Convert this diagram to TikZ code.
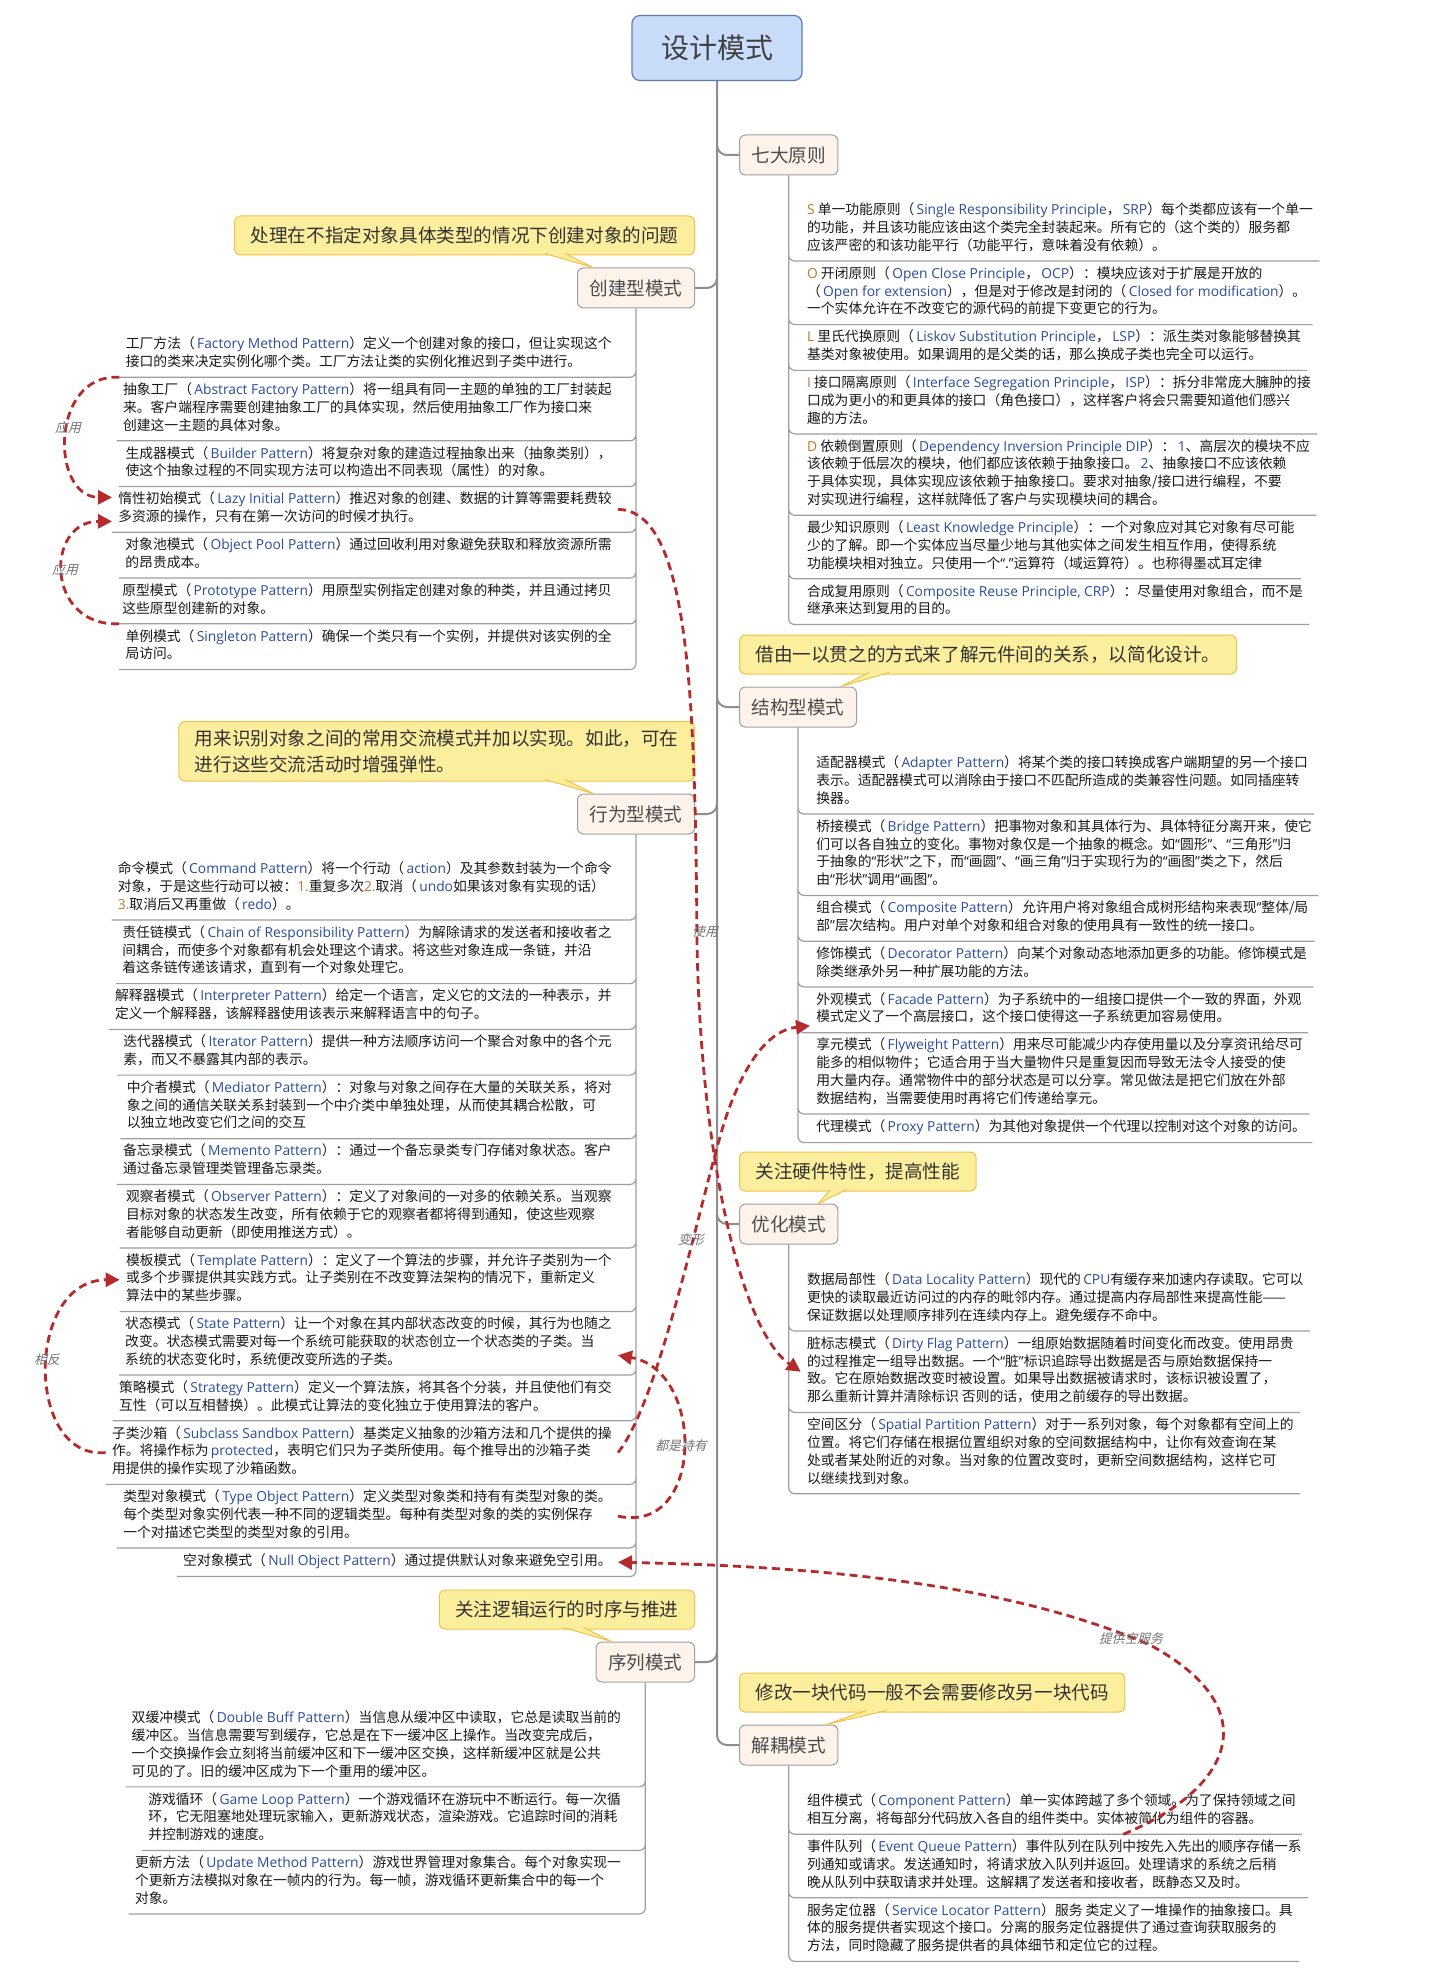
\documentclass[tikz,border=0pt]{standalone}
\usepackage{fontspec}
\setmainfont{Noto Sans CJK SC}
\newfontfamily\enfont{Open Sans}
\newfontfamily\lblfont[FakeSlant=0.25]{Noto Sans CJK SC}
\usetikzlibrary{positioning,arrows.meta,calc}
\definecolor{rootfill}{HTML}{C9DCFA}
\definecolor{rootline}{HTML}{5B7DB8}
\definecolor{branchfill}{HTML}{FDF3EB}
\definecolor{branchline}{HTML}{A0A0A0}
\definecolor{notefill}{HTML}{FBEE9D}
\definecolor{noteline}{HTML}{F0C24A}
\definecolor{treeline}{HTML}{8E8E8E}
\definecolor{enblue}{HTML}{2B4C9C}
\definecolor{enorange}{HTML}{C0762B}
\definecolor{relred}{HTML}{B52A2A}
\newcommand\en[1]{{\enfont\color{enblue}\,#1}}
\newcommand\hl[1]{{\enfont\color{enorange}#1}}
\newcommand\qt[1]{{\enfont “}#1{\enfont ”}}

\begin{document}
\begin{tikzpicture}[x=0.5pt,y=-0.5pt,
  root/.style={draw=rootline,fill=rootfill,rounded corners=4pt,line width=0.6pt,
    minimum width=85pt,minimum height=32.5pt,font=\fontsize{14}{16}\selectfont,text=black!75},
  branch/.style={draw=branchline,fill=branchfill,rounded corners=3pt,line width=0.5pt,
    minimum height=20pt,inner xsep=6pt,font=\fontsize{9.3}{11}\selectfont,text=black!70},
  note/.style={draw=noteline,fill=notefill,rounded corners=3pt,line width=0.5pt,
    inner xsep=8pt,inner ysep=4pt,minimum height=19.5pt,align=left,
    font=\fontsize{9.3}{13}\selectfont,text=black!80},
  notetip/.style={fill=notefill,draw=noteline,line width=0.5pt},
  itemL/.style={anchor=north east,align=left,inner xsep=3pt,inner ysep=2.5pt,
    font=\fontsize{6.9}{8.9}\selectfont,text=black!90,
    execute at begin node=\strut,execute at end node=\strut},
  itemR/.style={itemL,anchor=north west},
  trunk/.style={draw=treeline,line width=1pt,rounded corners=5pt},
  tree/.style={draw=treeline!85,line width=0.6pt,rounded corners=3pt},
  rel/.style={draw=relred,line width=1.4pt,dash pattern=on 4pt off 2.5pt,
    -{Triangle[length=7pt,width=7pt]}},
  rellabel/.style={font=\lblfont\fontsize{6.4}{7}\selectfont,text=black!55}
]
    \path[use as bounding box,fill=white] (0,0) rectangle (1434,1974);

    % Root
    \node[root] (root) at (717,48) {设计模式};

    % Branches
    \node[branch,anchor=west] (pri) at (739,155) {七大原则};
    \node[branch,anchor=east] (cre) at (695,288) {创建型模式};
    \node[branch,anchor=west] (str) at (739,707) {结构型模式};
    \node[branch,anchor=east] (beh) at (695,814) {行为型模式};
    \node[branch,anchor=west] (opt) at (739,1224) {优化模式};
    \node[branch,anchor=east] (seq) at (695,1662) {序列模式};
    \node[branch,anchor=west] (dec) at (739,1745) {解耦模式};

    \draw[trunk] (root.south) |- (pri.west) (root.south) |- (cre.east)
                 (root.south) |- (str.west) (root.south) |- (beh.east)
                 (root.south) |- (opt.west) (root.south) |- (seq.east)
                 (root.south) |- (dec.west);

    % Notes
    \node[note,above left=6pt and 0pt of cre.north east] (ncre)
        {处理在不指定对象具体类型的情况下创建对象的问题};
    \node[note,above left=6pt and 0pt of beh.north east] (nbeh)
        {用来识别对象之间的常用交流模式并加以实现。如此，可在\\进行这些交流活动时增强弹性。};
    \node[note,above right=6pt and 0pt of str.north west] (nstr)
        {借由一以贯之的方式来了解元件间的关系，以简化设计。};
    \node[note,above right=6pt and 0pt of opt.north west] (nopt)
        {关注硬件特性，提高性能};
    \node[note,above left=6pt and 0pt of seq.north east] (nseq)
        {关注逻辑运行的时序与推进};
    \node[note,above right=6pt and 0pt of dec.north west] (ndec)
        {修改一块代码一般不会需要修改另一块代码};

    \filldraw[notetip] ($(cre.north west|-ncre.south)+(-16pt,1pt)$) -- ([xshift=8pt]cre.north west)
        -- ($(cre.north west|-ncre.south)+(-6pt,1pt)$);
    \filldraw[notetip] ($(beh.north west|-nbeh.south)+(-16pt,1pt)$) -- ([xshift=8pt]beh.north west)
        -- ($(beh.north west|-nbeh.south)+(-6pt,1pt)$);
    \filldraw[notetip] ($(seq.north west|-nseq.south)+(-16pt,1pt)$) -- ([xshift=8pt]seq.north west)
        -- ($(seq.north west|-nseq.south)+(-6pt,1pt)$);
    \filldraw[notetip] ($(str.north east|-nstr.south)+(16pt,1pt)$) -- ([xshift=-8pt]str.north east)
        -- ($(str.north east|-nstr.south)+(6pt,1pt)$);
    \filldraw[notetip] ($(opt.north east|-nopt.south)+(4pt,1pt)$) -- ([xshift=-10pt]opt.north east)
        -- ($(opt.north east|-nopt.south)+(-4pt,1pt)$);
    \filldraw[notetip] ($(dec.north east|-ndec.south)+(24pt,1pt)$) -- ([xshift=-6pt]dec.north east)
        -- ($(dec.north east|-ndec.south)+(14pt,1pt)$);

    % Seven principles
    \node[itemR] (srp) at ([xshift=6pt,yshift=-11pt]pri.south)
        {\hl{S} 单一功能原则（\en{Single Responsibility Principle}，\en{SRP}）每个类都应该有一个单一\\的功能，并且该功能应该由这个类完全封装起来。所有它的（这个类的）服务都\\应该严密的和该功能平行（功能平行，意味着没有依赖）。};
    \node[itemR] (ocp) at (srp.south west)
        {\hl{O} 开闭原则（\en{Open Close Principle}，\en{OCP}）：模块应该对于扩展是开放的\\（\en{Open for extension}），但是对于修改是封闭的（\en{Closed for modification}）。\\一个实体允许在不改变它的源代码的前提下变更它的行为。};
    \node[itemR] (lsp) at (ocp.south west)
        {\hl{L} 里氏代换原则（\en{Liskov Substitution Principle}，\en{LSP}）：派生类对象能够替换其\\基类对象被使用。如果调用的是父类的话，那么换成子类也完全可以运行。};
    \node[itemR] (isp) at (lsp.south west)
        {\hl{I} 接口隔离原则（\en{Interface Segregation Principle}，\en{ISP}）：拆分非常庞大臃肿的接\\口成为更小的和更具体的接口（角色接口），这样客户将会只需要知道他们感兴\\趣的方法。};
    \node[itemR] (dip) at (isp.south west)
        {\hl{D} 依赖倒置原则（\en{Dependency Inversion Principle DIP}）：\en{1}、高层次的模块不应\\该依赖于低层次的模块，他们都应该依赖于抽象接口。\en{2}、抽象接口不应该依赖\\于具体实现，具体实现应该依赖于抽象接口。要求对抽象/接口进行编程，不要\\对实现进行编程，这样就降低了客户与实现模块间的耦合。};
    \node[itemR] (lkp) at (dip.south west)
        {最少知识原则（\en{Least Knowledge Principle}）：一个对象应对其它对象有尽可能\\少的了解。即一个实体应当尽量少地与其他实体之间发生相互作用，使得系统\\功能模块相对独立。只使用一个\qt{.}运算符（域运算符）。也称得墨忒耳定律};
    \node[itemR] (crp) at (lkp.south west)
        {合成复用原则（\en{Composite Reuse Principle, CRP}）：尽量使用对象组合，而不是\\继承来达到复用的目的。};
    \draw[tree] (pri.south) |- (srp.south east) (pri.south) |- (ocp.south east)
                (pri.south) |- (lsp.south east) (pri.south) |- (isp.south east)
                (pri.south) |- (dip.south east) (pri.south) |- (lkp.south east)
                (pri.south) |- (crp.south east);

    % Creational
    \node[itemL] (fac) at ([xshift=-9pt,yshift=-11.5pt]cre.south)
        {工厂方法（\en{Factory Method Pattern}）定义一个创建对象的接口，但让实现这个\\接口的类来决定实例化哪个类。工厂方法让类的实例化推迟到子类中进行。};
    \node[itemL] (abf) at (fac.south east)
        {抽象工厂（\en{Abstract Factory Pattern}）将一组具有同一主题的单独的工厂封装起\\来。客户端程序需要创建抽象工厂的具体实现，然后使用抽象工厂作为接口来\\创建这一主题的具体对象。};
    \node[itemL] (bld) at (abf.south east)
        {生成器模式（\en{Builder Pattern}）将复杂对象的建造过程抽象出来（抽象类别），\\使这个抽象过程的不同实现方法可以构造出不同表现（属性）的对象。};
    \node[itemL] (lazy) at (bld.south east)
        {惰性初始模式（\en{Lazy Initial Pattern}）推迟对象的创建、数据的计算等需要耗费较\\多资源的操作，只有在第一次访问的时候才执行。};
    \node[itemL] (pool) at (lazy.south east)
        {对象池模式（\en{Object Pool Pattern}）通过回收利用对象避免获取和释放资源所需\\的昂贵成本。};
    \node[itemL] (proto) at (pool.south east)
        {原型模式（\en{Prototype Pattern}）用原型实例指定创建对象的种类，并且通过拷贝\\这些原型创建新的对象。};
    \node[itemL] (sgl) at (proto.south east)
        {单例模式（\en{Singleton Pattern}）确保一个类只有一个实例，并提供对该实例的全\\局访问。};
    \draw[tree] (cre.south) |- (fac.south west) (cre.south) |- (abf.south west)
                (cre.south) |- (bld.south west) (cre.south) |- (lazy.south west)
                (cre.south) |- (pool.south west) (cre.south) |- (proto.south west)
                (cre.south) |- (sgl.south west);

    % Structural
    \node[itemR] (adp) at ([xshift=6pt,yshift=-11.5pt]str.south)
        {适配器模式（\en{Adapter Pattern}）将某个类的接口转换成客户端期望的另一个接口\\表示。适配器模式可以消除由于接口不匹配所造成的类兼容性问题。如同插座转\\换器。};
    \node[itemR] (brg) at (adp.south west)
        {桥接模式（\en{Bridge Pattern}）把事物对象和其具体行为、具体特征分离开来，使它\\们可以各自独立的变化。事物对象仅是一个抽象的概念。如\qt{圆形}、\qt{三角形}归\\于抽象的\qt{形状}之下，而\qt{画圆}、\qt{画三角}归于实现行为的\qt{画图}类之下，然后\\由\qt{形状}调用\qt{画图}。};
    \node[itemR] (cmp) at (brg.south west)
        {组合模式（\en{Composite Pattern}）允许用户将对象组合成树形结构来表现{\enfont “}整体/局\\部{\enfont ”}层次结构。用户对单个对象和组合对象的使用具有一致性的统一接口。};
    \node[itemR] (dco) at (cmp.south west)
        {修饰模式（\en{Decorator Pattern}）向某个对象动态地添加更多的功能。修饰模式是\\除类继承外另一种扩展功能的方法。};
    \node[itemR] (fcd) at (dco.south west)
        {外观模式（\en{Facade Pattern}）为子系统中的一组接口提供一个一致的界面，外观\\模式定义了一个高层接口，这个接口使得这一子系统更加容易使用。};
    \node[itemR] (fly) at (fcd.south west)
        {享元模式（\en{Flyweight Pattern}）用来尽可能减少内存使用量以及分享资讯给尽可\\能多的相似物件；它适合用于当大量物件只是重复因而导致无法令人接受的使\\用大量内存。通常物件中的部分状态是可以分享。常见做法是把它们放在外部\\数据结构，当需要使用时再将它们传递给享元。};
    \node[itemR] (prx) at (fly.south west)
        {代理模式（\en{Proxy Pattern}）为其他对象提供一个代理以控制对这个对象的访问。};
    \draw[tree] (str.south) |- (adp.south east) (str.south) |- (brg.south east)
                (str.south) |- (cmp.south east) (str.south) |- (dco.south east)
                (str.south) |- (fcd.south east) (str.south) |- (fly.south east)
                (str.south) |- (prx.south east);

    % Behavioral
    \node[itemL] (cmd) at ([xshift=-9pt,yshift=-11pt]beh.south)
        {命令模式（\en{Command Pattern}）将一个行动（\en{action}）及其参数封装为一个命令\\对象，于是这些行动可以被：\hl{1.}重复多次\hl{2.}取消（\en{undo}如果该对象有实现的话）\\\hl{3.}取消后又再重做（\en{redo}）。};
    \node[itemL] (chn) at (cmd.south east)
        {责任链模式（\en{Chain of Responsibility Pattern}）为解除请求的发送者和接收者之\\间耦合，而使多个对象都有机会处理这个请求。将这些对象连成一条链，并沿\\着这条链传递该请求，直到有一个对象处理它。};
    \node[itemL] (itp) at (chn.south east)
        {解释器模式（\en{Interpreter Pattern}）给定一个语言，定义它的文法的一种表示，并\\定义一个解释器，该解释器使用该表示来解释语言中的句子。};
    \node[itemL] (itr) at (itp.south east)
        {迭代器模式（\en{Iterator Pattern}）提供一种方法顺序访问一个聚合对象中的各个元\\素，而又不暴露其内部的表示。};
    \node[itemL] (med) at (itr.south east)
        {中介者模式（\en{Mediator Pattern}）：对象与对象之间存在大量的关联关系，将对\\象之间的通信关联关系封装到一个中介类中单独处理，从而使其耦合松散，可\\以独立地改变它们之间的交互};
    \node[itemL] (mem) at (med.south east)
        {备忘录模式（\en{Memento Pattern}）：通过一个备忘录类专门存储对象状态。客户\\通过备忘录管理类管理备忘录类。};
    \node[itemL] (obs) at (mem.south east)
        {观察者模式（\en{Observer Pattern}）：定义了对象间的一对多的依赖关系。当观察\\目标对象的状态发生改变，所有依赖于它的观察者都将得到通知，使这些观察\\者能够自动更新（即使用推送方式）。};
    \node[itemL] (tpl) at (obs.south east)
        {模板模式（\en{Template Pattern}）：定义了一个算法的步骤，并允许子类别为一个\\或多个步骤提供其实践方式。让子类别在不改变算法架构的情况下，重新定义\\算法中的某些步骤。};
    \node[itemL] (stt) at (tpl.south east)
        {状态模式（\en{State Pattern}）让一个对象在其内部状态改变的时候，其行为也随之\\改变。状态模式需要对每一个系统可能获取的状态创立一个状态类的子类。当\\系统的状态变化时，系统便改变所选的子类。};
    \node[itemL] (stg) at (stt.south east)
        {策略模式（\en{Strategy Pattern}）定义一个算法族，将其各个分装，并且使他们有交\\互性（可以互相替换）。此模式让算法的变化独立于使用算法的客户。};
    \node[itemL] (sbx) at (stg.south east)
        {子类沙箱（\en{Subclass Sandbox Pattern}）基类定义抽象的沙箱方法和几个提供的操\\作。将操作标为\en{protected}，表明它们只为子类所使用。每个推导出的沙箱子类\\用提供的操作实现了沙箱函数。};
    \node[itemL] (typ) at (sbx.south east)
        {类型对象模式（\en{Type Object Pattern}）定义类型对象类和持有有类型对象的类。\\每个类型对象实例代表一种不同的逻辑类型。每种有类型对象的类的实例保存\\一个对描述它类型的类型对象的引用。};
    \node[itemL] (nul) at (typ.south east)
        {空对象模式（\en{Null Object Pattern}）通过提供默认对象来避免空引用。};
    \draw[tree] (beh.south) |- (cmd.south west) (beh.south) |- (chn.south west)
                (beh.south) |- (itp.south west) (beh.south) |- (itr.south west)
                (beh.south) |- (med.south west) (beh.south) |- (mem.south west)
                (beh.south) |- (obs.south west) (beh.south) |- (tpl.south west)
                (beh.south) |- (stt.south west) (beh.south) |- (stg.south west)
                (beh.south) |- (sbx.south west) (beh.south) |- (typ.south west)
                (beh.south) |- (nul.south west);

    % Optimization
    \node[itemR] (dloc) at ([xshift=6pt,yshift=-11.5pt]opt.south)
        {数据局部性（\en{Data Locality Pattern}）现代的\en{CPU}有缓存来加速内存读取。它可以\\更快的读取最近访问过的内存的毗邻内存。通过提高内存局部性来提高性能——\\保证数据以处理顺序排列在连续内存上。避免缓存不命中。};
    \node[itemR] (dirty) at (dloc.south west)
        {脏标志模式（\en{Dirty Flag Pattern}）一组原始数据随着时间变化而改变。使用昂贵\\的过程推定一组导出数据。一个\qt{脏}标识追踪导出数据是否与原始数据保持一\\致。它在原始数据改变时被设置。如果导出数据被请求时，该标识被设置了，\\那么重新计算并清除标识 否则的话，使用之前缓存的导出数据。};
    \node[itemR] (spat) at (dirty.south west)
        {空间区分（\en{Spatial Partition Pattern}）对于一系列对象，每个对象都有空间上的\\位置。将它们存储在根据位置组织对象的空间数据结构中，让你有效查询在某\\处或者某处附近的对象。当对象的位置改变时，更新空间数据结构，这样它可\\以继续找到对象。};
    \draw[tree] (opt.south) |- (dloc.south east) (opt.south) |- (dirty.south east)
                (opt.south) |- (spat.south east);

    % Sequence
    \node[itemL] (dbuf) at ([xshift=-9pt,yshift=-11.5pt]seq.south)
        {双缓冲模式（\en{Double Buff Pattern}）当信息从缓冲区中读取，它总是读取当前的\\缓冲区。当信息需要写到缓存，它总是在下一缓冲区上操作。当改变完成后，\\一个交换操作会立刻将当前缓冲区和下一缓冲区交换，这样新缓冲区就是公共\\可见的了。旧的缓冲区成为下一个重用的缓冲区。};
    \node[itemL] (gloop) at (dbuf.south east)
        {游戏循环（\en{Game Loop Pattern}）一个游戏循环在游玩中不断运行。每一次循\\环，它无阻塞地处理玩家输入，更新游戏状态，渲染游戏。它追踪时间的消耗\\并控制游戏的速度。};
    \node[itemL] (upd) at (gloop.south east)
        {更新方法（\en{Update Method Pattern}）游戏世界管理对象集合。每个对象实现一\\个更新方法模拟对象在一帧内的行为。每一帧，游戏循环更新集合中的每一个\\对象。};
    \draw[tree] (seq.south) |- (dbuf.south west) (seq.south) |- (gloop.south west)
                (seq.south) |- (upd.south west);

    % Decoupling
    \node[itemR] (comp) at ([xshift=6pt,yshift=-11.5pt]dec.south)
        {组件模式（\en{Component Pattern}）单一实体跨越了多个领域。为了保持领域之间\\相互分离，将每部分代码放入各自的组件类中。实体被简化为组件的容器。};
    \node[itemR] (evq) at (comp.south west)
        {事件队列（\en{Event Queue Pattern}）事件队列在队列中按先入先出的顺序存储一系\\列通知或请求。发送通知时，将请求放入队列并返回。处理请求的系统之后稍\\晚从队列中获取请求并处理。这解耦了发送者和接收者，既静态又及时。};
    \node[itemR] (svl) at (evq.south west)
        {服务定位器（\en{Service Locator Pattern}）服务 类定义了一堆操作的抽象接口。具\\体的服务提供者实现这个接口。分离的服务定位器提供了通过查询获取服务的\\方法，同时隐藏了服务提供者的具体细节和定位它的过程。};
    \draw[tree] (dec.south) |- (comp.south east) (dec.south) |- (evq.south east)
                (dec.south) |- (svl.south east);

    % Relations
    \draw[rel] (fac.south west) .. controls (50,373) and (50,497) .. ([yshift=6pt]lazy.west);
    \draw[rel] (sgl.north west) .. controls (45,627) and (45,521) .. ([yshift=-6pt]lazy.west);
    \draw[rel] (sbx.west) .. controls (25,1460) and (25,1280) .. (tpl.west);
    \draw[rel] (lazy.east) .. controls (690,510) and (695,700) .. (697,940)
        .. controls (700,1150) and (740,1330) .. (dirty.west);
    \draw[rel] (sbx.east) .. controls (660,1400) and (700,1200) .. (725,1120)
        .. controls (745,1060) and (770,1030) .. ([yshift=-8pt]fcd.west);
    \draw[rel] (typ.east) .. controls (705,1535) and (705,1370) .. ([yshift=-6pt]stt.east);
    \draw[rel] ([xshift=36pt]comp.south) .. controls (1230,1790) and (1270,1710) .. (1150,1645)
        .. controls (1000,1580) and (800,1566) .. (nul.east);

    \node[rellabel] (lapp1) at (68,428) {应用};
    \node[rellabel] (lapp2) at (65,570) {应用};
    \node[rellabel] (luse) at (705,932) {使用};
    \node[rellabel] (lvar) at (691,1240) {变形};
    \node[rellabel] (lhold) at (681,1446) {都是持有};
    \node[rellabel] (lnull) at (1131,1639) {提供空服务};
    \node[rellabel] (lopp) at (47,1360) {相反};
\end{tikzpicture}
\end{document}
